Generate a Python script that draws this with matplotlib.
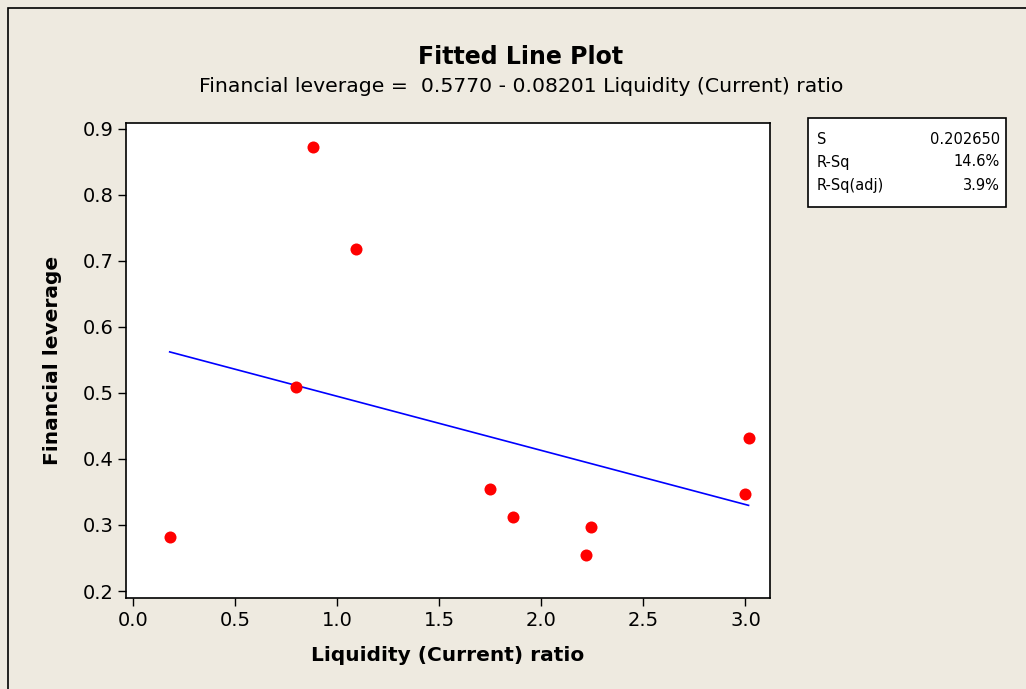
import numpy as np
import matplotlib.pyplot as plt
from matplotlib.patches import Rectangle

# data
liquidity = [0.18, 0.80, 0.88, 1.09, 1.75, 1.86, 2.22, 2.245, 3.00, 3.015]
leverage = [0.282, 0.509, 0.873, 0.718, 0.355, 0.312, 0.255, 0.297, 0.347, 0.432]

# regression coefficients from the subtitle
intercept = 0.5770
slope = -0.08201

stat_names = ["S", "R-Sq", "R-Sq(adj)"]
stat_values = ["0.202650", "14.6%", "3.9%"]

bg = "#eeeae0"
fig = plt.figure(figsize=(10.26, 6.89), dpi=100, facecolor=bg)

# outer frame (left and top edges visible)
fig.patches.append(Rectangle((8 / 1026, -0.5), 2, 1.5 - 8 / 689, transform=fig.transFigure,
                             fill=False, edgecolor="black", linewidth=1.2))

ax = fig.add_axes([126 / 1026, 1 - 598 / 689, 644 / 1026, 475 / 689])
ax.set_facecolor("white")

xfit = np.linspace(min(liquidity), max(liquidity), 50)
ax.plot(xfit, intercept + slope * xfit, color="#0000ff", linewidth=1.2, zorder=2)
ax.scatter(liquidity, leverage, s=75, color="#ff0000", zorder=3, linewidths=0)

ax.set_xlim(-0.034, 3.12)
ax.set_ylim(0.1894, 0.909)
ax.set_xticks(np.arange(0, 3.01, 0.5))
ax.set_yticks(np.arange(0.2, 0.91, 0.1))
ax.set_xticklabels([f"{v:.1f}" for v in np.arange(0, 3.01, 0.5)])
ax.set_yticklabels([f"{v:.1f}" for v in np.arange(0.2, 0.91, 0.1)])
ax.tick_params(direction="out", length=6, width=1, labelsize=14, pad=3)
for sp in ax.spines.values():
    sp.set_linewidth(1.2)

ax.set_xlabel("Liquidity (Current) ratio", fontsize=14.5, fontweight="bold", labelpad=12)
ax.set_ylabel("Financial leverage", fontsize=14.5, fontweight="bold", labelpad=15)

fig.text(521 / 1026, 1 - 57 / 689, "Fitted Line Plot", ha="center", va="center",
         fontsize=17, fontweight="bold")
fig.text(521 / 1026, 1 - 87 / 689,
         "Financial leverage =  0.5770 - 0.08201 Liquidity (Current) ratio",
         ha="center", va="center", fontsize=14.7)

# stats box
fig.patches.append(Rectangle((808 / 1026, 1 - 207 / 689), 198 / 1026, 89 / 689,
                             transform=fig.transFigure, facecolor="white",
                             edgecolor="black", linewidth=1.2))
for i, (name, val) in enumerate(zip(stat_names, stat_values)):
    yy = 1 - (139 + i * 23) / 689
    fig.text(817 / 1026, yy, name, ha="left", va="center", fontsize=10.5)
    fig.text(1000 / 1026, yy, val, ha="right", va="center", fontsize=10.5)

fig.savefig("out.png", dpi=100, facecolor=bg)
